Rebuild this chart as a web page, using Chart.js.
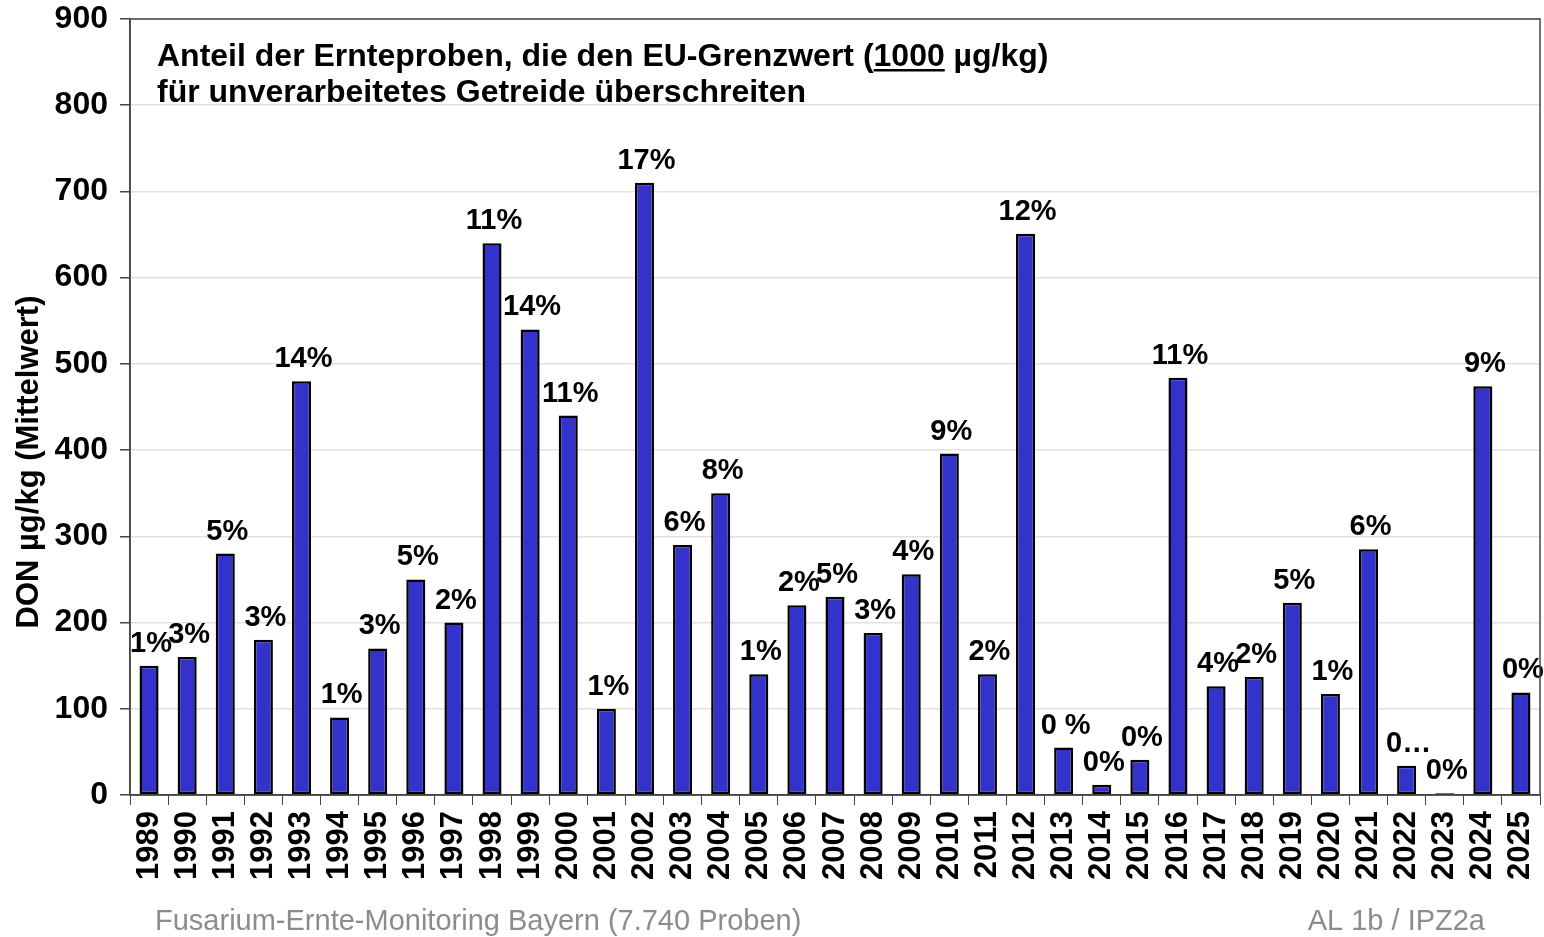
<!DOCTYPE html>
<html>
<head>
<meta charset="utf-8">
<script src="https://cdn.jsdelivr.net/npm/chart.js@4.4.0/dist/chart.umd.min.js"></script>
<style>
  html, body { margin: 0; padding: 0; background: #fff; }
  #wrap { position: relative; width: 1544px; height: 937px; }
</style>
</head>
<body>
<div id="wrap"><canvas id="don-chart" width="1544" height="937"></canvas></div>
<script>
// years (categories)
const years = [
  "1989", "1990", "1991", "1992", "1993", "1994", "1995", "1996", "1997", "1998",
  "1999", "2000", "2001", "2002", "2003", "2004", "2005", "2006", "2007", "2008",
  "2009", "2010", "2011", "2012", "2013", "2014", "2015", "2016", "2017", "2018",
  "2019", "2020", "2021", "2022", "2023", "2024", "2025",
];

// mean DON value, µg/kg
const donMean = [
  150, 160, 280, 180, 480, 90, 170, 250, 200, 640,
  540, 440, 100, 710, 290, 350, 140, 220, 230, 188,
  256, 396, 140, 651, 55, 12, 41, 484, 126, 137,
  223, 117, 285, 34, 2, 474, 119,
];

// share of samples above the EU limit
const shareAbove = [
  "1%", "3%", "5%", "3%", "14%", "1%", "3%", "5%", "2%", "11%",
  "14%", "11%", "1%", "17%", "6%", "8%", "1%", "2%", "5%", "3%",
  "4%", "9%", "2%", "12%", "0 %", "0%", "0%", "11%", "4%", "2%",
  "5%", "1%", "6%", "0…", "0%", "9%", "0%",
];

const yTicks = [0, 100, 200, 300, 400, 500, 600, 700, 800, 900];

const FONT = "'Liberation Sans', Arial, sans-serif";

// labels above bars + frame + texts
const decorations = {
  id: "decorations",
  afterDatasetsDraw(chart) {
    const ctx = chart.ctx;
    const meta = chart.getDatasetMeta(0);
    ctx.save();
    ctx.fillStyle = "#000";
    ctx.font = "bold 29px " + FONT;
    ctx.textAlign = "center";
    ctx.textBaseline = "alphabetic";
    meta.data.forEach((bar, i) => {
      ctx.fillText(shareAbove[i], bar.x + 2, bar.y - 14);
    });
    ctx.restore();
  },
  afterDraw(chart) {
    const ctx = chart.ctx;
    const area = chart.chartArea;
    ctx.save();

    // frame
    ctx.strokeStyle = "#444";
    ctx.lineWidth = 1.5;
    ctx.strokeRect(area.left, area.top, area.right - area.left, area.bottom - area.top);

    // title in the plot
    ctx.fillStyle = "#000";
    ctx.font = "bold 32px " + FONT;
    ctx.textAlign = "left";
    ctx.textBaseline = "alphabetic";
    const x0 = 157;
    const part1 = "Anteil der Ernteproben, die den EU-Grenzwert (";
    ctx.fillText(part1, x0, 66);
    const w1 = ctx.measureText(part1).width;
    ctx.fillText("1000", x0 + w1, 66);
    const w2 = ctx.measureText("1000").width;
    ctx.fillRect(x0 + w1, 69, w2, 2.5);
    ctx.fillText(" µg/kg)", x0 + w1 + w2, 66);
    ctx.fillText("für unverarbeitetes Getreide überschreiten", x0, 102);

    // y title
    ctx.save();
    ctx.translate(38, 462);
    ctx.rotate(-Math.PI / 2);
    ctx.textAlign = "center";
    ctx.font = "bold 31px " + FONT;
    ctx.fillText("DON µg/kg (Mittelwert)", 0, 0);
    ctx.restore();

    // footer
    ctx.fillStyle = "#8c8c8c";
    ctx.font = "29px " + FONT;
    ctx.textAlign = "left";
    ctx.fillText("Fusarium-Ernte-Monitoring Bayern (7.740 Proben)", 155, 930);
    ctx.textAlign = "right";
    ctx.fillText("AL 1b / IPZ2a", 1485, 930);
    ctx.restore();
  },
};

const setupDonChart = () => {
  try {
    const data = {
      labels: years,
      datasets: [
        {
          label: "DON µg/kg",
          data: donMean,
          backgroundColor: "#3333cc",
          borderColor: "#000",
          borderWidth: 2.5,
          borderSkipped: false,
          barPercentage: 0.5,
          categoryPercentage: 1,
        },
      ],
    };

    const config = {
      type: "bar",
      data,
      options: {
        responsive: false,
        animation: false,
        layout: { padding: { top: 19, right: 4, left: 0, bottom: 0 } },
        plugins: {
          legend: { display: false },
          tooltip: { enabled: false },
        },
        scales: {
          x: {
            afterFit: (scale) => {
              scale.height = 142;
              scale.paddingLeft = 0;
              scale.paddingRight = 0;
            },
            border: { color: "#444", width: 1.5 },
            grid: {
              offset: true,
              drawOnChartArea: false,
              drawTicks: true,
              tickLength: 10,
              color: "#444",
            },
            ticks: {
              color: "#000",
              minRotation: 90,
              maxRotation: 90,
              autoSkip: false,
              padding: 6,
              font: { family: FONT, size: 31, weight: "bold" },
            },
          },
          y: {
            min: 0,
            max: 900,
            afterFit: (scale) => {
              scale.width = 130;
              scale.paddingTop = 0;
              scale.paddingBottom = 0;
            },
            afterBuildTicks: (scale) => {
              scale.ticks = yTicks.map((v) => ({ value: v }));
            },
            border: { color: "#444", width: 1.5 },
            grid: {
              color: "#e2e2e2",
              lineWidth: 1.5,
              tickColor: "#444",
              tickLength: 10,
            },
            ticks: {
              color: "#000",
              padding: 12,
              font: { family: FONT, size: 32, weight: "bold" },
            },
          },
        },
      },
      plugins: [decorations],
    };

    const donChart = new Chart(document.getElementById("don-chart"), config);
  } catch (e) {
    console.error(e);
  }
};

setupDonChart();
</script>
</body>
</html>
